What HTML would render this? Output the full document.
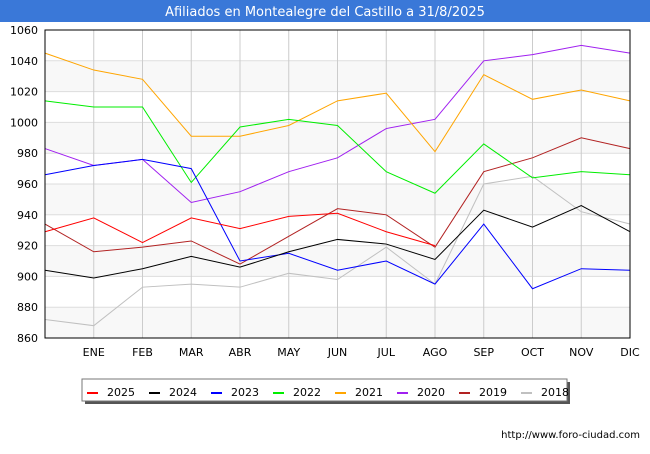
<!DOCTYPE html>
<html><head><meta charset="utf-8"><style>
body{margin:0;width:650px;height:450px;background:#fff;font-family:"DejaVu Sans","Liberation Sans",sans-serif;overflow:hidden}
</style></head><body>
<svg id="c" width="650" height="450" xmlns="http://www.w3.org/2000/svg">
<rect x="0" y="0" width="650" height="22" fill="#3a78d8"/>
<text x="325" y="16" text-anchor="middle" fill="#fff" font-size="13">Afiliados en Montealegre del Castillo a 31/8/2025</text>
<g id="grid"></g><g id="series"></g>
<rect x="45" y="30" width="585" height="308" fill="none" stroke="#000"/>
<g id="legend"></g>
<text x="640" y="438" text-anchor="end" font-size="10" fill="#000">http://www.foro-ciudad.com</text>
</svg>
<script>
const categories=["","ENE","FEB","MAR","ABR","MAY","JUN","JUL","AGO","SEP","OCT","NOV","DIC"];
const yTicks=[860,880,900,920,940,960,980,1000,1020,1040,1060];
const seriesNames=["2025","2024","2023","2022","2021","2020","2019","2018"];
const seriesColors=["#ff0000","#000000","#0000ff","#00ee00","#ffa500","#a020f0","#b22222","#c0c0c0"];
const s2025=[929,938,922,938,931,939,941,929,920];
const s2024=[904,899,905,913,906,916,924,921,911,943,932,946,929];
const s2023=[966,972,976,970,910,915,904,910,895,934,892,905,904];
const s2022=[1014,1010,1010,961,997,1002,998,968,954,986,964,968,966];
const s2021=[1045,1034,1028,991,991,998,1014,1019,981,1031,1015,1021,1014];
const s2020=[983,972,976,948,955,968,977,996,1002,1040,1044,1050,1045];
const s2019=[934,916,919,923,908,926,944,940,919,968,977,990,983];
const s2018=[872,868,893,895,893,902,898,919,895,960,965,942,934];
const allSeries=[s2025,s2024,s2023,s2022,s2021,s2020,s2019,s2018];
const NS="http://www.w3.org/2000/svg";
const X0=45,X1=630,Y0=338,Y1=30,vmin=860,vmax=1060;
const xs=i=>X0+i*(X1-X0)/(categories.length-1);
const ys=v=>Y0-(v-vmin)*(Y0-Y1)/(vmax-vmin);
function mk(t,a,p){const e=document.createElementNS(NS,t);for(const k in a)e.setAttribute(k,a[k]);p.appendChild(e);return e;}
const grid=document.getElementById('grid');
for(let i=0;i<yTicks.length-1;i++){
 if(i%2===0){const r=mk('rect',{x:X0,y:ys(yTicks[i+1]),width:X1-X0,height:ys(yTicks[i])-ys(yTicks[i+1]),fill:'#f8f8f8'},grid);
 
 }
}
yTicks.forEach(v=>{const l=mk('line',{x1:X0,x2:X1,y1:ys(v),y2:ys(v),stroke:'#ddd'},grid);
 
 
 const t=mk('text',{x:38,y:ys(v)+4,'text-anchor':'end','font-size':'11'},grid);t.textContent=v;
 
 });
categories.forEach((c,i)=>{const l=mk('line',{x1:xs(i),x2:xs(i),y1:Y1,y2:Y0,stroke:'#ccc'},grid);
 
 
 const t=mk('text',{x:xs(i),y:356,'text-anchor':'middle','font-size':'11'},grid);t.textContent=c;
 
 });
const sg=document.getElementById('series');
for(let k=allSeries.length-1;k>=0;k--){
 const pts=allSeries[k].map((v,i)=>xs(i)+','+ys(v)).join(' ');
 const p=mk('polyline',{points:pts,fill:'none',stroke:seriesColors[k],'stroke-width':1},sg);
 
 
}
const lg=document.getElementById('legend');
mk('rect',{x:85,y:382,width:485,height:22,fill:'#555'},lg);
const lb=mk('rect',{x:82,y:379,width:485,height:22,fill:'#fff',stroke:'#777'},lg);


seriesNames.forEach((n,i)=>{const x=87+i*62;
 const g=mk('g',{},lg);
 
 
 mk('rect',{x:x,y:392,width:11,height:2,fill:seriesColors[i]},g);
 const t=mk('text',{x:x+20,y:396,'font-size':'11'},g);t.textContent=n;});
</script>
</body></html>
